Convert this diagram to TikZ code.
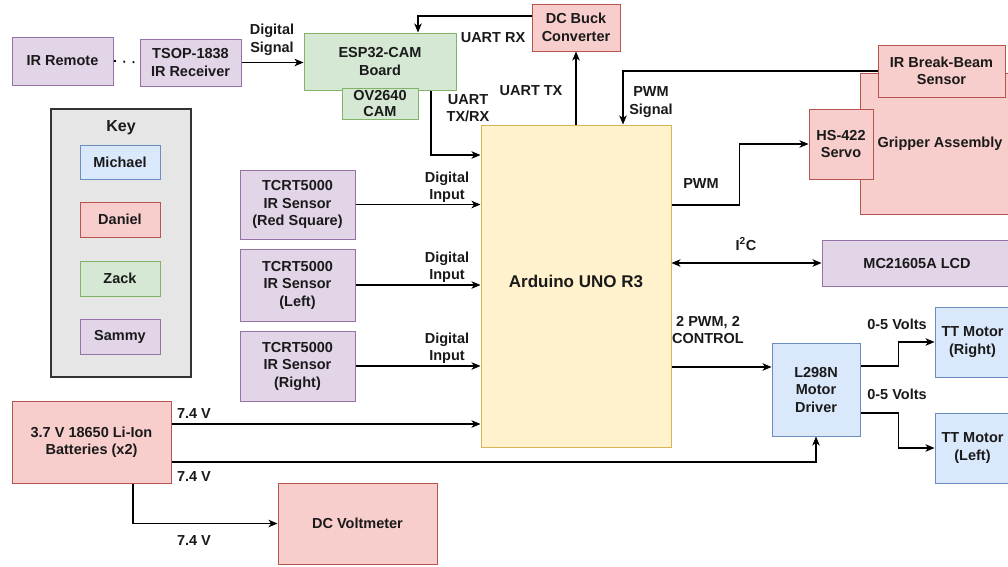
\documentclass[tikz,border=0pt]{standalone}
\usepackage{fontspec}
\setmainfont{Liberation Sans}
\usetikzlibrary{arrows.meta,calc}
\definecolor{bluF}{HTML}{DAE8FC}\definecolor{bluS}{HTML}{6C8EBF}
\definecolor{redF}{HTML}{F8CECC}\definecolor{redS}{HTML}{B85450}
\definecolor{grnF}{HTML}{D5E8D4}\definecolor{grnS}{HTML}{82B366}
\definecolor{purF}{HTML}{E1D5E7}\definecolor{purS}{HTML}{9673A6}
\definecolor{ylwF}{HTML}{FFF2CC}\definecolor{ylwS}{HTML}{D6B656}
\definecolor{keyF}{HTML}{E6E6E6}\definecolor{keyS}{HTML}{333333}
\definecolor{txt}{HTML}{1A1A1A}
\newcommand\fnt{\fontsize{14.5}{17.5}\selectfont\bfseries}
\tikzset{
  base/.style={draw, line width=1pt, inner sep=2pt, align=center, font=\fnt, text=txt},
  sz/.style 2 args={minimum width=#1pt, minimum height=#2pt},
  mich/.style={base, fill=bluF, draw=bluS},
  dan/.style={base, fill=redF, draw=redS},
  zck/.style={base, fill=grnF, draw=grnS},
  sam/.style={base, fill=purF, draw=purS},
  ard/.style={base, fill=ylwF, draw=ylwS},
  keybox/.style={base, fill=keyF, draw=keyS, line width=1.3pt},
  lbl/.style={font=\fnt, align=center, inner sep=0pt, text=txt},
  arr/.style={-{Stealth[length=9pt,width=7.5pt,inset=2.5pt]}, line width=1.1pt},
  biarr/.style={{Stealth[length=9pt,width=7.5pt,inset=2.5pt]}-{Stealth[length=9pt,width=7.5pt,inset=2.5pt]}, line width=1.1pt},
}
\begin{document}
\begin{tikzpicture}[x=1pt,y=-1pt]
\clip (0,0) rectangle (1008,566);
\fill[white] (0,0) rectangle (1008,566);

% key
\node[keybox, sz={140}{268}] (key) at (121,243) {};
\node[lbl, font=\fontsize{16}{18}\selectfont\bfseries] (keyt) at (121,128) {Key};
\node[mich, sz={80}{34}] (k1) at (120,162) {Michael};
\node[dan, sz={80}{35}] (k2) at (120,219.5) {Daniel};
\node[zck, sz={80}{35}] (k3) at (120,278.5) {Zack};
\node[sam, sz={80}{35}] (k4) at (120,336.5) {Sammy};

% top row
\node[sam, sz={101}{48}] (irr) at (62.5,61) {IR Remote};
\node[sam, sz={101}{47}] (tsop) at (190.5,62.5) {TSOP-1838\\IR Receiver};
\node[zck, sz={152}{57}] (esp) at (380,61.5) {ESP32-CAM\\Board};
\node[zck, sz={76}{31}, font=\fontsize{14.5}{16}\selectfont\bfseries] (ov) at (380,103.5) {OV2640\\CAM};
\node[dan, sz={88}{47}] (buck) at (576,27.5) {DC Buck\\Converter};

% arduino
\node[ard, sz={190}{322}, font=\fontsize{17}{20}\selectfont\bfseries] (ard) at (576,286) {\raisebox{9pt}{Arduino UNO R3}};

% gripper group
\node[dan, sz={160}{141}] (grip) at (940,143.5) {Gripper Assembly};
\node[dan, sz={127}{52}] (bb) at (941.5,71) {IR Break-Beam\\Sensor};
\node[dan, sz={64}{70}] (servo) at (841,144) {HS-422\\Servo};

% right side
\node[sam, sz={190}{46}] (lcd) at (917,263) {MC21605A LCD};
\node[mich, sz={88}{93}] (drv) at (816,389.5) {L298N\\Motor\\Driver};
\node[mich, sz={75}{70}] (ttr) at (972.5,342) {TT Motor\\(Right)};
\node[mich, sz={75}{70}] (ttl) at (972.5,448) {TT Motor\\(Left)};

% sensors
\node[sam, sz={115}{69}] (s1) at (297.5,204.5) {TCRT5000\\IR Sensor\\(Red Square)};
\node[sam, sz={115}{72}] (s2) at (297.5,285) {TCRT5000\\IR Sensor\\(Left)};
\node[sam, sz={115}{70}] (s3) at (297.5,366) {TCRT5000\\IR Sensor\\(Right)};

% power
\node[dan, sz={159}{82}] (bat) at (91.5,442) {3.7 V 18650 Li-Ion\\Batteries (x2)};
\node[dan, sz={159}{81}] (volt) at (357.5,523.5) {DC Voltmeter};

% connectors
\draw[line width=1.8pt, dash pattern=on 1.8pt off 7.5pt, dash phase=-0.5pt] (irr.east) -- (tsop.west);
\draw[arr] (tsop.east) -- (tsop.east -| esp.west);
\draw[arr] ([yshift=11.5pt]buck.west) -| ([xshift=38pt]esp.north);
\draw[arr] ([xshift=51pt]esp.south) |- ([yshift=131pt]ard.west);
\draw[arr] (ard.north) -- (buck.south);
\draw[arr] (bb.west) -| ([xshift=47pt]ard.north);
\draw[arr] ([yshift=81pt]ard.east) -- ++(68,0) |- (servo.west);
\draw[biarr] ([yshift=23pt]ard.east) -- (lcd.west);
\draw[arr] ([yshift=-81pt]ard.east) -- ([yshift=22.5pt]drv.west);
\draw[arr] ([yshift=23.5pt]drv.east) -- ++(38,0) |- (ttr.west);
\draw[arr] ([yshift=-23.5pt]drv.east) -- ++(38,0) |- (ttl.west);
\draw[arr] (s1.east) -- (s1.east -| ard.west);
\draw[arr] (s2.east) -- (s2.east -| ard.west);
\draw[arr] (s3.east) -- (s3.east -| ard.west);
\draw[arr] ([yshift=18pt]bat.east) -- ([yshift=-138pt]ard.west);
\draw[arr] ([yshift=-20pt]bat.east) -| (drv.south);
\draw[arr] ([xshift=41.5pt]bat.south) |- (volt.west);

% labels
\node[lbl] (l1) at (272,40) {Digital\\Signal};
\node[lbl] (l2) at (493,38) {UART RX};
\node[lbl] (l3) at (468,108) {UART\\TX/RX};
\node[lbl] (l4) at (531,91) {UART TX};
\node[lbl] (l5) at (651,102) {PWM\\Signal};
\node[lbl] (l6) at (701,184) {PWM};
\node[lbl] (l7) at (746,244) {I\textsuperscript{2}C};
\node[lbl] (l8) at (708,330) {2 PWM, 2\\CONTROL};
\node[lbl] (l9) at (897,324) {0-5 Volts};
\node[lbl] (l10) at (897,394) {0-5 Volts};
\node[lbl] (l11) at (194,413) {7.4 V};
\node[lbl] (l12) at (194,476) {7.4 V};
\node[lbl] (l13) at (194,540) {7.4 V};
\node[lbl] (l14) at (447,187) {Digital\\Input};
\node[lbl] (l15) at (447,267) {Digital\\Input};
\node[lbl] (l16) at (447,348) {Digital\\Input};
\end{tikzpicture}
\end{document}
